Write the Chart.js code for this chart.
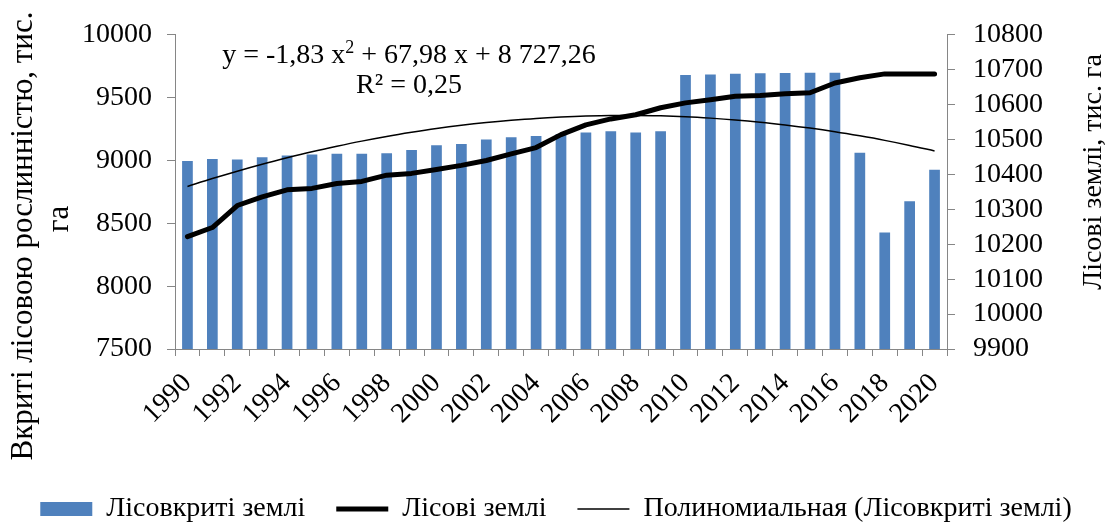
<!DOCTYPE html>
<html><head><meta charset="utf-8">
<script src="https://cdn.jsdelivr.net/npm/chart.js@4.4.1/dist/chart.umd.min.js"></script>
<style>html,body{margin:0;padding:0;overflow:hidden;background:#fff}#wrap{width:1112px;height:524px;position:relative;overflow:hidden}</style>
</head><body><div id="wrap"><canvas id="c" width="1112" height="533"></canvas></div>
<script>
const years = ['1990','1991','1992','1993','1994','1995','1996','1997','1998','1999','2000','2001','2002','2003','2004','2005','2006','2007','2008','2009','2010','2011','2012','2013','2014','2015','2016','2017','2018','2019','2020'];
const forestCovered = [8995,9012,9008,9026,9040,9048,9053,9053,9058,9084,9122,9132,9166,9184,9194,9210,9222,9232,9222,9232,9680,9684,9691,9694,9696,9698,9698,9062,8426,8676,8926];
const forestLand = [10222,10248,10311,10336,10356,10360,10374,10380,10398,10403,10414,10426,10440,10459,10477,10514,10542,10559,10571,10591,10605,10614,10624,10626,10631,10634,10662,10677,10688,10688,10688];
const trendValues = [8793,8856,8915,8970,9021,9069,9113,9154,9191,9224,9254,9280,9302,9320,9335,9346,9354,9358,9358,9355,9348,9337,9323,9305,9283,9258,9229,9196,9160,9120,9076];
const leftRange = [7500, 10000, 500];
const rightRange = [9900, 10800, 100];
const seriesNames = ['Лісовкриті землі','Лісові землі','Полиномиальная (Лісовкриті землі)'];
const leftTitle = ['Вкриті лісовою рослинністю, тис.','га'];
const rightTitle = 'Лісові землі, тис. га';
const eqParts = ['y = -1,83 x','2',' + 67,98 x + 8 727,26'];
const r2Text = 'R² = 0,25';

const FONT = '"Liberation Serif", "Times New Roman", serif';
const FS = 28;
const AXIS = '#868686';
const BLUE = '#4F81BD';

const textPlugin = {
  id: 'texts',
  afterDraw(chart) {
    const ctx = chart.ctx, a = chart.chartArea;
    ctx.save();
    ctx.fillStyle = '#000';
    ctx.textBaseline = 'middle';
    ctx.textAlign = 'center';
    // left title
    ctx.font = '31px ' + FONT;
    ctx.save(); ctx.translate(24, 236); ctx.rotate(-Math.PI/2); ctx.fillText(leftTitle[0], 0, 0); ctx.restore();
    ctx.save(); ctx.translate(60, 219); ctx.rotate(-Math.PI/2); ctx.fillText(leftTitle[1], 0, 0); ctx.restore();
    // right title
    ctx.font = FS + 'px ' + FONT;
    ctx.save(); ctx.translate(1094, 172); ctx.rotate(-Math.PI/2); ctx.fillText(rightTitle, 0, 0); ctx.restore();
    // equation
    const cx = a.left + 234;
    ctx.textAlign = 'left';
    ctx.textBaseline = 'alphabetic';
    const supFont = '18px ' + FONT;
    const mainFont = FS + 'px ' + FONT;
    ctx.font = mainFont; const w0 = ctx.measureText(eqParts[0]).width; const w2 = ctx.measureText(eqParts[2]).width;
    ctx.font = supFont; const w1 = ctx.measureText(eqParts[1]).width;
    let x = cx - (w0 + w1 + w2) / 2;
    const base = 63;
    ctx.font = mainFont; ctx.fillText(eqParts[0], x, base); x += w0;
    ctx.font = supFont; ctx.fillText(eqParts[1], x, base - 10); x += w1;
    ctx.font = mainFont; ctx.fillText(eqParts[2], x, base);
    ctx.textAlign = 'center';
    ctx.fillText(r2Text, cx, 93);
    ctx.restore();
  }
};

new Chart(document.getElementById('c'), {
  type: 'bar',
  data: {
    labels: years,
    datasets: [
      { type: 'bar', label: seriesNames[0], data: forestCovered, backgroundColor: BLUE, borderWidth: 0,
        categoryPercentage: 1, barPercentage: 0.43, yAxisID: 'y', order: 2 },
      { type: 'line', label: seriesNames[1], data: forestLand, borderColor: '#000', backgroundColor: '#000',
        borderWidth: 5, pointRadius: 0, tension: 0, borderJoinStyle: 'round', borderCapStyle: 'round', yAxisID: 'y1', order: 1 },
      { type: 'line', label: seriesNames[2], data: trendValues, borderColor: '#000', backgroundColor: '#000',
        borderWidth: 1.5, pointRadius: 0, tension: 0.4, cubicInterpolationMode: 'monotone', yAxisID: 'y', order: 0 }
    ]
  },
  options: {
    responsive: false,
    animation: false,
    devicePixelRatio: 1,
    layout: { padding: { top: 24, left: 0, right: 0, bottom: 0 } },
    plugins: {
      tooltip: { enabled: false },
      legend: {
        position: 'bottom',
        labels: {
          usePointStyle: true,
          pointStyleWidth: 52,
          boxHeight: 14,
          padding: 31,
          color: '#000',
          font: { family: FONT, size: FS },
          generateLabels: () => [
            { text: seriesNames[0], fillStyle: BLUE, strokeStyle: BLUE, lineWidth: 0, pointStyle: 'rect', datasetIndex: 0, hidden: false, fontColor: '#000' },
            { text: seriesNames[1], fillStyle: '#000', strokeStyle: '#000', lineWidth: 5, pointStyle: 'line', datasetIndex: 1, hidden: false, fontColor: '#000' },
            { text: seriesNames[2], fillStyle: '#000', strokeStyle: '#000', lineWidth: 1.5, pointStyle: 'line', datasetIndex: 2, hidden: false, fontColor: '#000' }
          ]
        }
      }
    },
    scales: {
      x: {
        offset: true,
        grid: { display: true, offset: true, drawOnChartArea: false, drawTicks: true, tickLength: 7, color: AXIS },
        border: { display: true, color: AXIS, width: 1 },
        ticks: {
          autoSkip: false, minRotation: 45, maxRotation: 45, color: '#000', padding: 11,
          font: { family: FONT, size: FS },
          callback: function(v, i) { return i % 2 === 0 ? this.getLabelForValue(v) : ''; }
        },
        afterFit: (s) => { s.height = 533 - 349 - 69; }
      },
      y: {
        position: 'left', min: leftRange[0], max: leftRange[1],
        grid: { drawOnChartArea: false, drawTicks: true, tickLength: 8, color: AXIS },
        border: { display: true, color: AXIS, width: 1 },
        ticks: { autoSkip: false, stepSize: leftRange[2], color: '#000', padding: 15, font: { family: FONT, size: FS }, callback: (v) => String(v) },
        afterFit: (s) => { s.width = 175; }
      },
      y1: {
        position: 'right', min: rightRange[0], max: rightRange[1],
        grid: { drawOnChartArea: false, drawTicks: true, tickLength: 8, color: AXIS },
        border: { display: true, color: AXIS, width: 1 },
        ticks: { autoSkip: false, stepSize: rightRange[2], color: '#000', padding: 18, font: { family: FONT, size: FS }, callback: (v) => String(v) },
        afterFit: (s) => { s.width = 165; }
      }
    }
  },
  plugins: [textPlugin]
});
</script>
</body></html>
